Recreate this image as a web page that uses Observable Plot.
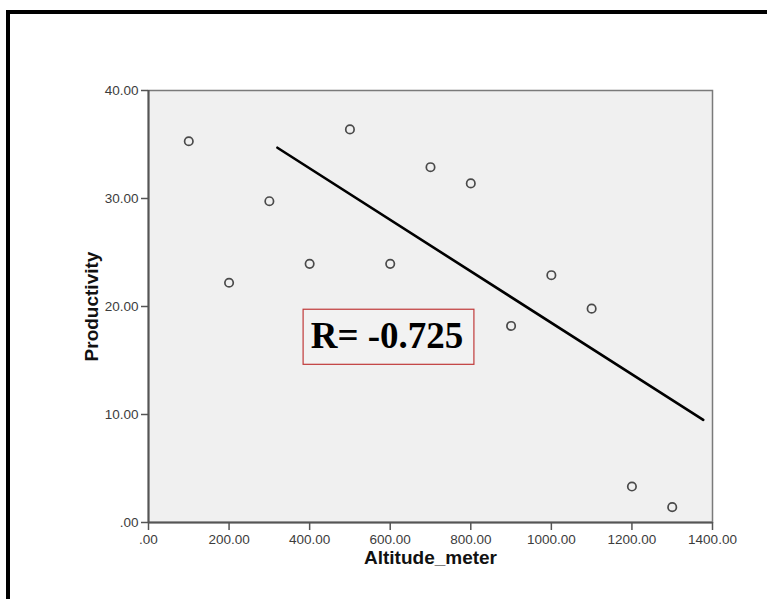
<!DOCTYPE html>
<html><head><meta charset="utf-8">
<script src="https://cdn.jsdelivr.net/npm/d3@7"></script>
<script src="https://cdn.jsdelivr.net/npm/@observablehq/plot@0.6"></script>
<style>
html,body{margin:0;padding:0;background:#fff;overflow:hidden}
#wrap{position:relative;width:767px;height:599px;overflow:hidden;background:#fff}
#chart{position:absolute;left:0;top:0}
#border{position:absolute;left:6px;top:10px;width:900px;height:900px;border-left:4px solid #000;border-top:4px solid #000;pointer-events:none}
</style></head><body>
<div id="wrap"><div id="chart"></div><div id="border"></div></div>
<script>
// Data
const altitude     = [100, 200, 300, 400, 500, 600, 700, 800, 900, 1000, 1100, 1200, 1300];
const productivity = [35.3, 22.2, 29.75, 23.95, 36.4, 23.95, 32.9, 31.4, 18.2, 22.9, 19.8, 3.33, 1.42];
const fitAltitude     = [320, 1377];
const fitProductivity = [34.7, 9.5];
const xTicks = [0, 200, 400, 600, 800, 1000, 1200, 1400];
const yTicks = [0, 10, 20, 30, 40];
const xTitle = "Altitude_meter";
const yTitle = "Productivity";
const rLabel = "R= -0.725";
const rLabelAt = [592, 17.3];
const rBoxX = [385, 809];
const rBoxY = [14.6, 19.7];

const points = altitude.map((a, i) => ({a, p: productivity[i]}));
const fit = fitAltitude.map((a, i) => ({a, p: fitProductivity[i]}));
const fmt = d => d === 0 ? ".00" : d.toFixed(2);

const chart = Plot.plot({
  width: 767,
  height: 599,
  marginLeft: 148,
  marginRight: 55,
  marginTop: 90,
  marginBottom: 77,
  style: {background: "transparent", fontFamily: "'Liberation Sans', Arial, sans-serif"},
  x: {domain: [0, 1400]},
  y: {domain: [0, 40]},
  marks: [
    Plot.frame({fill: "#f0f0f0", stroke: "#7a7a7a", strokeWidth: 1.5}),
    Plot.axisX({ticks: xTicks, tickFormat: fmt, tickSize: 8, tickPadding: 4, fontSize: 13.5, fill: "#3c3c3c", stroke: "#555", strokeWidth: 1.5, label: null}),
    Plot.axisY({ticks: yTicks, tickFormat: fmt, tickSize: 7, tickPadding: 3, fontSize: 13.5, fill: "#3c3c3c", stroke: "#555", strokeWidth: 1.5, label: null}),
    Plot.ruleX([0], {stroke: "#555", strokeWidth: 2}),
    Plot.ruleY([0], {stroke: "#555", strokeWidth: 2}),
    Plot.line(fit, {x: "a", y: "p", stroke: "#000", strokeWidth: 2.6}),
    Plot.dot(points, {x: "a", y: "p", r: 4.2, stroke: "#4a4a4a", strokeWidth: 1.7, fill: "none"}),
    Plot.rect([{x1: rBoxX[0], x2: rBoxX[1], y1: rBoxY[0], y2: rBoxY[1]}], {x1: "x1", x2: "x2", y1: "y1", y2: "y2", fill: "#f2f2f2", stroke: "#c03a3a", strokeWidth: 1.2}),
    Plot.text([rLabel], {x: rLabelAt[0], y: rLabelAt[1], text: d => d, fontFamily: "'Liberation Serif', 'Times New Roman', serif", fontWeight: "bold", fontSize: 37, fill: "#000"}),
    Plot.text([xTitle], {frameAnchor: "bottom", text: d => d, textAnchor: "middle", lineAnchor: "middle", dy: 35, fontSize: 19, fontWeight: "bold", fill: "#111"}),
    Plot.text([yTitle], {frameAnchor: "left", text: d => d, textAnchor: "middle", lineAnchor: "middle", dx: -57, rotate: -90, fontSize: 19, fontWeight: "bold", fill: "#111"})
  ]
});
document.getElementById("chart").appendChild(chart);
</script>
</body></html>
